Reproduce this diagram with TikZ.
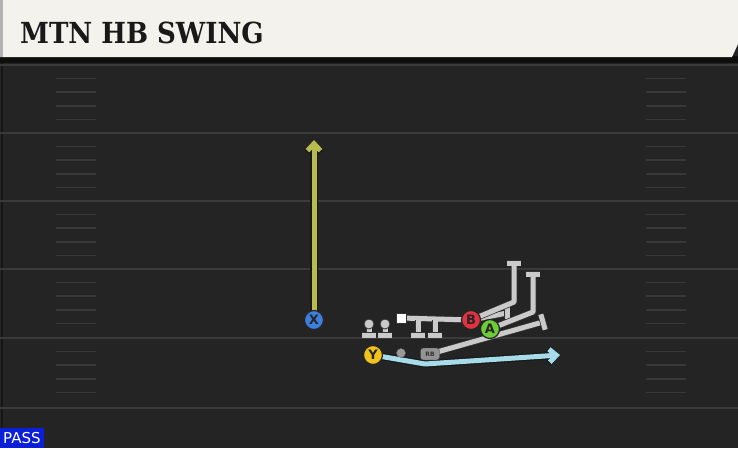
\documentclass[tikz,border=0pt]{standalone}
\usepackage{fontspec}
\usetikzlibrary{arrows.meta,calc}
\newfontfamily\titlefont{DejaVu Serif Condensed}
\newfontfamily\tagfont{DejaVu Sans}
\definecolor{turf}{HTML}{242424}
\definecolor{yardline}{HTML}{3A3A3A}
\definecolor{header}{HTML}{F4F2EC}
\definecolor{blockgray}{HTML}{CACACA}
\definecolor{streak}{HTML}{B8BC50}
\definecolor{swing}{HTML}{A6DCEA}
\definecolor{xblue}{HTML}{3D7FDD}
\definecolor{yyellow}{HTML}{F2C21C}
\definecolor{bred}{HTML}{E2323F}
\definecolor{agreen}{HTML}{6DCC3A}
\definecolor{passblue}{HTML}{0B1FD8}
\pgfdeclarelayer{field}
\pgfdeclarelayer{routes}
\pgfsetlayers{field,routes,main}

\begin{document}
\begin{tikzpicture}[x=1pt,y=-1pt,
  player/.style={circle,draw=black!85,line width=1.2pt,minimum size=19pt,inner sep=0pt,
    font=\tagfont\bfseries\fontsize{13}{13}\selectfont,text=black!85},
  block/.style={line width=5pt,draw=blockgray,preaction={draw=black!80,line width=6.5pt}},
  outline/.style={line width=7.5pt,draw=black!90},
  route/.style={line width=5pt,line join=round}]
  \useasboundingbox (0,0) rectangle (738,448);
  % Terrain
  \begin{pgfonlayer}{field}
    \fill [turf] (0,0) rectangle (738,448);
    \fill [black!60!turf] (0,56) rectangle (738,63);
    \fill [header] (0,0) -- (738,0) -- (738,44) -- (732,57) -- (0,57) -- cycle;
    \fill [black!30] (0,0) rectangle (3,57);
    \draw [black!35!turf,line width=2pt] (2,63) -- (2,448);
    \foreach \yl in {65,133,201,269,338,408}
      \draw [yardline,line width=2pt] (0,\yl) -- (738,\yl);
    \foreach \yl in {65,133,201,269,338}
      \foreach \k in {1,...,4} {
        \draw [yardline!90!turf,line width=1.6pt] (56,\yl+13.6*\k) -- (96,\yl+13.6*\k);
        \draw [yardline!90!turf,line width=1.6pt] (646,\yl+13.6*\k) -- (686,\yl+13.6*\k);
      }
  \end{pgfonlayer}
  % Titre
  \node [anchor=base west,inner sep=0pt,
    font=\titlefont\bfseries\fontsize{29}{29}\selectfont,text=black!90] (titre) at (20,43) {MTN HB SWING};
  \node [anchor=south west,fill=passblue,text=white,inner xsep=3pt,inner ysep=2pt,minimum height=20pt,
    font=\tagfont\fontsize{15}{15}\selectfont] (pass) at (0,448) {PASS};
  % Joueurs
  \node [player,fill=xblue] (X) at (314,320) {X};
  \node [player,fill=yyellow] (Y) at (373,355) {Y};
  \node [player,fill=bred] (B) at (471,320) {B};
  \node [player,fill=agreen] (A) at (490,329) {A};
  \node [draw=black!80,fill=white,minimum size=10pt,inner sep=0pt] (C) at (401,318) {};
  \node [circle,fill=gray!80,draw=black!60,minimum size=9pt,inner sep=0pt] (QB) at (401,353) {};
  \node [rounded corners=3pt,fill=gray!85,draw=black!70,minimum width=19pt,minimum height=12pt,inner sep=0pt,
    font=\tagfont\bfseries\fontsize{6}{6}\selectfont,text=black!80] (RB) at (430,354) {RB};
  \foreach \xl [count=\i] in {369,385} {
    \draw [block] (\xl,324) -- (\xl,335);
    \draw [block] (\xl-7,335) -- (\xl+7,335);
    \fill [blockgray,draw=black!80,line width=0.8pt] (\xl,324) circle (5);
  }
  % Routes
  \begin{pgfonlayer}{routes}
    \coordinate (xend) at (314,140);
    \coordinate (ybend) at (425,364);
    \coordinate (yend) at (560,355);
    \draw [outline,-{Straight Barb[length=7pt,width=13pt]}] (X.center) -- (xend);
    \draw [route,streak,-{Straight Barb[length=7pt,width=13pt]}] (X.center) -- (xend);
    \draw [outline,line join=round,-{Straight Barb[length=7pt,width=13pt]}] (Y.center) -- (ybend) -- (yend);
    \draw [route,swing,-{Straight Barb[length=7pt,width=13pt]}] (Y.center) -- (ybend) -- (yend);
    % blocs
    \coordinate (bbend) at (514,302);
    \coordinate (bend) at (514,263);
    \coordinate (bcut) at (507,313);
    \coordinate (abend) at (533,312);
    \coordinate (aend) at (533,274);
    \coordinate (rbend) at (543,322);
    \draw [block] (C.center) -- (B.center);
    \foreach \xl in {418,435} {
      \draw [block] (\xl,320) -- (\xl,335);
      \draw [block] (\xl-7,335) -- (\xl+7,335);
    }
    \draw [block] (B.center) -- (bcut);
    \draw [block] ($(bcut)+(0,-7)$) -- ($(bcut)+(0,6)$);
    \draw [block,line join=round] (B.center) -- (bbend) -- (bend);
    \draw [block] ($(bend)+(-7,0)$) -- ($(bend)+(7,0)$);
    \draw [block,line join=round] (A.center) -- (abend) -- (aend);
    \draw [block] ($(aend)+(-7,0)$) -- ($(aend)+(7,0)$);
    \draw [block] (RB.center) -- (rbend);
    \draw [block] ($(rbend)+(-2.2,-7.7)$) -- ($(rbend)+(2.2,7.7)$);
  \end{pgfonlayer}
\end{tikzpicture}
\end{document}
